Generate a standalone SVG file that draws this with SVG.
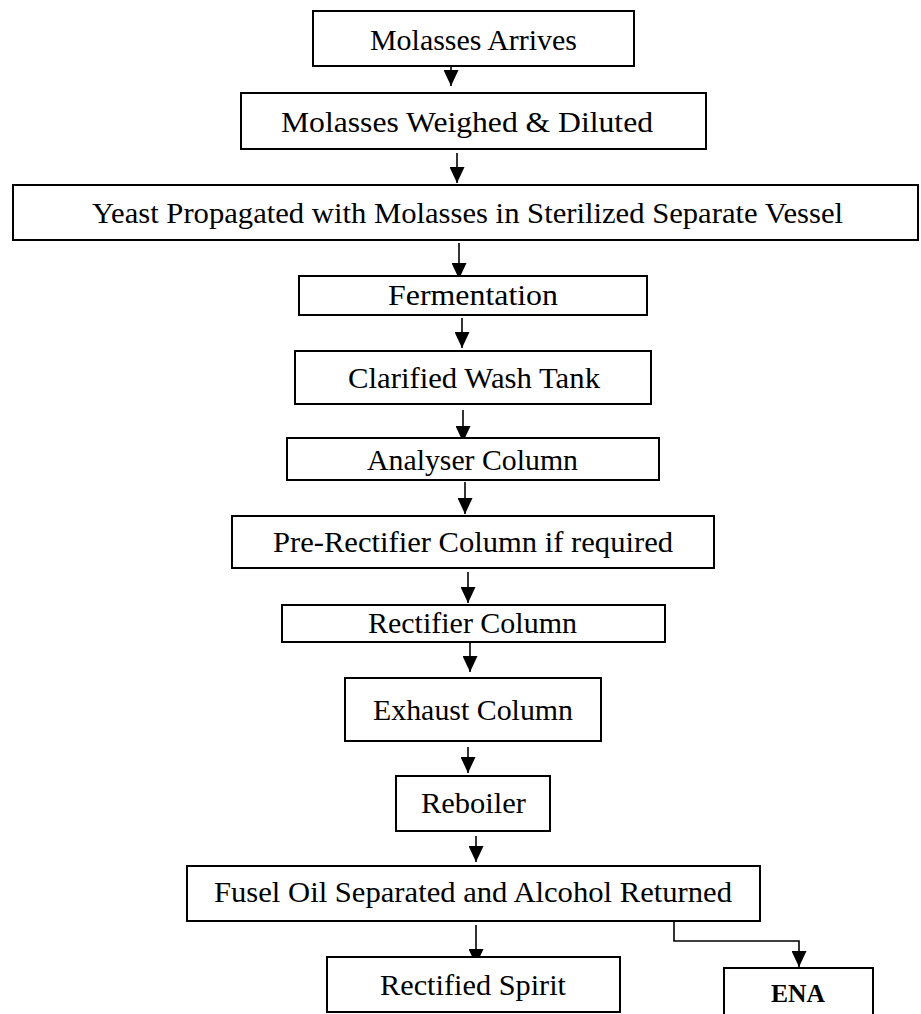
<svg xmlns="http://www.w3.org/2000/svg" width="921" height="1014" viewBox="0 0 921 1014">
<style>
  .box { fill: #ffffff; stroke: #000000; stroke-width: 2; }
  .lbl { font-family: "Liberation Serif", "Times New Roman", serif; font-size: 30px; fill: #000000; text-anchor: middle; }
  .bold { font-weight: bold; font-size: 26px; }
  .conn { fill: none; stroke: #000000; stroke-width: 1.6; }
</style>
<defs>
  <marker id="ah" viewBox="0 0 16 15" markerWidth="16" markerHeight="15" refX="16" refY="7.5" orient="auto" markerUnits="userSpaceOnUse">
    <path d="M0,0 L16,7.5 L0,15 Z" fill="#000000"/>
  </marker>
</defs>
<rect width="921" height="1014" fill="#ffffff"/>
<g id="connectors">
  <line class="conn" x1="451" y1="66" x2="451" y2="86" marker-end="url(#ah)"/>
  <line class="conn" x1="457" y1="153" x2="457" y2="183" marker-end="url(#ah)"/>
  <line class="conn" x1="459" y1="243" x2="459" y2="279" marker-end="url(#ah)"/>
  <line class="conn" x1="462" y1="318" x2="462" y2="348" marker-end="url(#ah)"/>
  <line class="conn" x1="463" y1="410" x2="463" y2="442" marker-end="url(#ah)"/>
  <line class="conn" x1="465" y1="482" x2="465" y2="514" marker-end="url(#ah)"/>
  <line class="conn" x1="468" y1="572" x2="468" y2="603" marker-end="url(#ah)"/>
  <line class="conn" x1="470" y1="643" x2="470" y2="672" marker-end="url(#ah)"/>
  <line class="conn" x1="468" y1="747" x2="468" y2="773" marker-end="url(#ah)"/>
  <line class="conn" x1="476" y1="836" x2="476" y2="862" marker-end="url(#ah)"/>
  <line class="conn" x1="476" y1="925" x2="476" y2="965" marker-end="url(#ah)"/>
  <polyline class="conn" points="674,916 674,941 799,941 799,967" marker-end="url(#ah)"/>
</g>
<g id="n1"><rect class="box" x="313" y="11" width="321" height="55"/><text class="lbl" x="473.5" y="50" textLength="207" lengthAdjust="spacingAndGlyphs">Molasses Arrives</text></g>
<g id="n2"><rect class="box" x="241" y="93" width="465" height="56"/><text class="lbl" x="467" y="132" textLength="372" lengthAdjust="spacingAndGlyphs">Molasses Weighed &amp; Diluted</text></g>
<g id="n3"><rect class="box" x="13" y="185" width="905" height="55"/><text class="lbl" x="467.5" y="223" textLength="751" lengthAdjust="spacingAndGlyphs">Yeast Propagated with Molasses in Sterilized Separate Vessel</text></g>
<g id="n4"><rect class="box" x="299" y="276" width="348" height="39"/><text class="lbl" x="473" y="305" textLength="170" lengthAdjust="spacingAndGlyphs">Fermentation</text></g>
<g id="n5"><rect class="box" x="295" y="351" width="356" height="53"/><text class="lbl" x="474" y="388" textLength="252" lengthAdjust="spacingAndGlyphs">Clarified Wash Tank</text></g>
<g id="n6"><rect class="box" x="287" y="438" width="372" height="42"/><text class="lbl" x="472.5" y="470" textLength="211" lengthAdjust="spacingAndGlyphs">Analyser Column</text></g>
<g id="n7"><rect class="box" x="232" y="516" width="482" height="52"/><text class="lbl" x="473" y="552" textLength="400" lengthAdjust="spacingAndGlyphs">Pre-Rectifier Column if required</text></g>
<g id="n8"><rect class="box" x="282" y="605" width="383" height="37"/><text class="lbl" x="472.5" y="633" textLength="209" lengthAdjust="spacingAndGlyphs">Rectifier Column</text></g>
<g id="n9"><rect class="box" x="345" y="678" width="256" height="63"/><text class="lbl" x="473" y="720" textLength="200" lengthAdjust="spacingAndGlyphs">Exhaust Column</text></g>
<g id="n10"><rect class="box" x="396" y="776" width="154" height="55"/><text class="lbl" x="473.5" y="813" textLength="105" lengthAdjust="spacingAndGlyphs">Reboiler</text></g>
<g id="n11"><rect class="box" x="187" y="866" width="573" height="55"/><text class="lbl" x="473" y="902" textLength="518" lengthAdjust="spacingAndGlyphs">Fusel Oil Separated and Alcohol Returned</text></g>
<g id="n12"><rect class="box" x="327" y="957" width="293" height="55"/><text class="lbl" x="473" y="995" textLength="186" lengthAdjust="spacingAndGlyphs">Rectified Spirit</text></g>
<g id="n13"><rect class="box" x="724" y="968" width="149" height="70"/><text class="lbl bold" x="798" y="1002" textLength="54" lengthAdjust="spacingAndGlyphs">ENA</text></g>
</svg>
